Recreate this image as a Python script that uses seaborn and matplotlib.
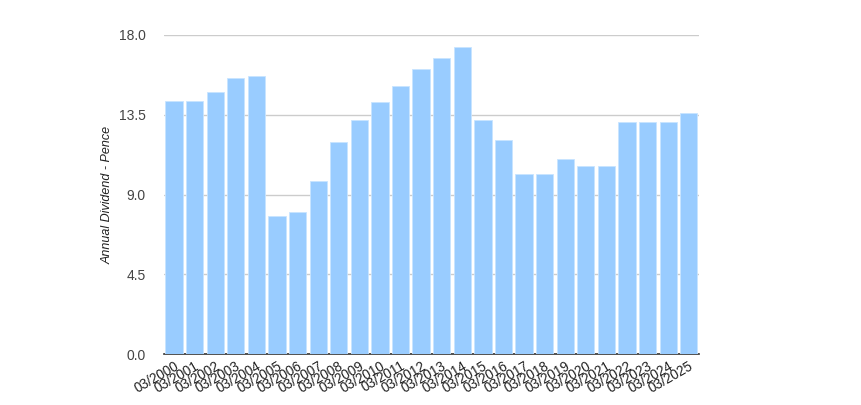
import seaborn as sns
import pandas as pd
import matplotlib.pyplot as plt

years = ['03/%d' % y for y in range(2000, 2026)]
dividends = [14.3, 14.3, 14.8, 15.55, 15.7, 7.8, 8.0, 9.75, 11.95, 13.2, 14.2, 15.1,
             16.05, 16.7, 17.3, 13.2, 12.05, 10.15, 10.15, 11.0, 10.6, 10.6,
             13.1, 13.1, 13.1, 13.6]
y_ticks = [0.0, 4.5, 9.0, 13.5, 18.0]

df = pd.DataFrame({'year': years, 'dividend': dividends})

sns.set_style('white')
plt.rcParams['font.family'] = ['Liberation Sans', 'DejaVu Sans']

fig = plt.figure(figsize=(8.62, 4.05), dpi=100)
ax = fig.add_axes([0.190, 0.125, 0.621, 0.789])

sns.barplot(data=df, x='year', y='dividend', color='#99ccff', saturation=1,
            width=0.84, edgecolor='#c8e4ff', linewidth=0.6, ax=ax, zorder=3)

ax.set_ylim(0, 18)
ax.set_yticks(y_ticks)
ax.set_yticklabels(['%.1f' % t for t in y_ticks], color='#444444', fontsize=10)
ax.yaxis.grid(True, color='#cccccc', linewidth=1, zorder=0)
ax.set_axisbelow(True)
ax.tick_params(axis='both', length=0, pad=13)
ax.tick_params(axis='x', pad=3)
ax.set_xlim(-0.5, len(years) - 0.5)

for lab in ax.get_xticklabels():
    lab.set_rotation(30)
    lab.set_ha('right')
    lab.set_rotation_mode('anchor')
    lab.set_fontsize(9.8)
    lab.set_color('#222222')

for s in ['top', 'right', 'left']:
    ax.spines[s].set_visible(False)
ax.spines['bottom'].set_color('#333333')
ax.spines['bottom'].set_linewidth(1.2)

ax.set_xlabel('')
ax.set_ylabel('Annual Dividend - Pence', style='italic', fontsize=9, color='#222222', labelpad=4)

fig.savefig('out.png', dpi=100)
